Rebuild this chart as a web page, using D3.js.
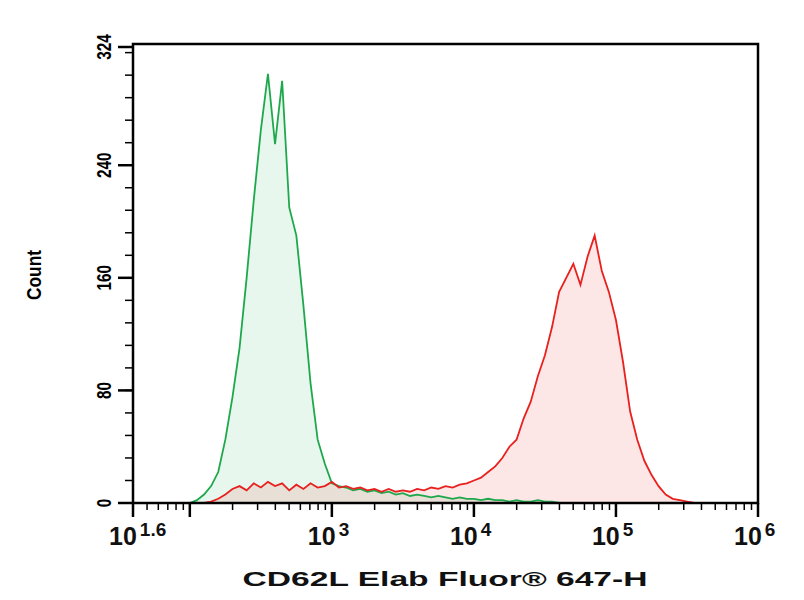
<!DOCTYPE html>
<html>
<head>
<meta charset="utf-8">
<script src="https://cdn.jsdelivr.net/npm/d3@7"></script>
<style>body{margin:0;background:#fff}</style>
</head>
<body>
<svg></svg>
<script>
// bin centres in log10 units, 0.05 step from 1.6
const binStart = 1.6, binStep = 0.05;
const green = [0,0,0,0,0,0,0,0, 0,2,6,12,22,45,75,110,160,215,265,305,255,300,210,190,140,85,45,28,
  14,12,11,9,10,8,9,7,8,6,7,5,6,5,4,5,4,3,4,3, 3,2,3,2,2,1,2,1,1,2,1,1,0,0,0,0];
const red = [0,0,0,0,0,0,0,0,0,0,0, 1,3,6,10,12,9,14,11,15,12,14,9,13,10,14,11,12,
  15,11,12,10,11,9,10,8,10,8,9,8,10,9,11,10,12,11,13,14,
  16,18,22,26,32,40,45,60,72,90,105,125,150,160,170,155,175,190,165,150,
  130,100,65,45,30,20,12,6,3,2,1,0,0,0];
const yTicks = [0, 80, 160, 240, 324];
const xTicks = [1.6, 3, 4, 5, 6];

const width = 804, height = 600;
const margin = { top: 44, right: 46, bottom: 97, left: 133 };

const svg = d3.select("svg").attr("width", width).attr("height", height);

const x = d3.scaleLinear().domain([1.6, 6]).range([margin.left, width - margin.right]);
const y = d3.scaleLinear().domain([0, 324]).range([height - margin.bottom, 47]);

const pts = arr => arr.map((v, i) => ({ lx: binStart + i * binStep, v }));

const area = d3.area().x(d => x(d.lx)).y0(y(0)).y1(d => y(d.v));
const line = d3.line().x(d => x(d.lx)).y(d => y(d.v));

svg.append("path").datum(pts(green)).attr("fill", "rgba(60,190,110,0.12)").attr("d", area);
svg.append("path").datum(pts(red)).attr("fill", "rgba(240,80,80,0.14)").attr("d", area);
svg.append("path").datum(pts(green)).attr("fill", "none").attr("stroke", "#1ea84c").attr("stroke-width", 1.8).attr("d", line);
svg.append("path").datum(pts(red)).attr("fill", "none").attr("stroke", "#e8201e").attr("stroke-width", 1.8).attr("d", line);

// frame
svg.append("rect")
  .attr("x", margin.left).attr("y", margin.top)
  .attr("width", width - margin.right - margin.left)
  .attr("height", height - margin.bottom - margin.top)
  .attr("fill", "none").attr("stroke", "#000").attr("stroke-width", 2.5);

const font = "Liberation Sans, Arial";

// y axis ticks
const yMinor = d3.range(0, 324, 16);
svg.append("g").selectAll("line").data(yMinor).join("line")
  .attr("x1", margin.left - 8).attr("x2", margin.left)
  .attr("y1", d => y(d)).attr("y2", d => y(d)).attr("stroke", "#000").attr("stroke-width", 1.5);
svg.append("g").selectAll("line").data(yTicks).join("line")
  .attr("x1", margin.left - 15).attr("x2", margin.left)
  .attr("y1", d => y(d)).attr("y2", d => y(d)).attr("stroke", "#000").attr("stroke-width", 2.5);
svg.append("g").selectAll("text").data(yTicks).join("text")
  .attr("transform", d => `translate(${margin.left - 22},${y(d)}) rotate(-90)`)
  .attr("text-anchor", "middle")
  .attr("font-family", font).attr("font-size", 20).attr("font-weight", "bold")
  .attr("textLength", d => String(d).length * 8.5).attr("lengthAdjust", "spacingAndGlyphs")
  .text(d => d);
svg.append("text")
  .attr("transform", `translate(41,${y(162)}) rotate(-90)`)
  .attr("text-anchor", "middle")
  .attr("font-family", font).attr("font-size", 21).attr("font-weight", "bold")
  .attr("textLength", 50).attr("lengthAdjust", "spacingAndGlyphs")
  .text("Count");

// x axis ticks
const xMinor = [];
for (let dec = 1; dec < 6; dec++) for (let k = 2; k <= 9; k++) {
  const l = dec + Math.log10(k);
  if (l > 1.6 && l < 6) xMinor.push(l);
}
const yb = height - margin.bottom;
svg.append("g").selectAll("line").data(xMinor).join("line")
  .attr("x1", d => x(d)).attr("x2", d => x(d))
  .attr("y1", yb).attr("y2", yb + 7).attr("stroke", "#000").attr("stroke-width", 1.5);
svg.append("g").selectAll("line").data([1.6, 2, 3, 4, 5, 6]).join("line")
  .attr("x1", d => x(d)).attr("x2", d => x(d))
  .attr("y1", yb).attr("y2", yb + 14).attr("stroke", "#000").attr("stroke-width", 2.5);

const xl = svg.append("g").selectAll("text").data(xTicks).join("text")
  .attr("x", d => x(d) - 24).attr("y", yb + 42)
  .attr("font-family", font).attr("font-size", 25).attr("font-weight", "bold")
  .attr("fill", "#111");
xl.append("tspan").text("10");
xl.append("tspan").attr("dy", -9).attr("dx", 3).attr("font-size", 19)
  .text(d => d === 1.6 ? "1.6" : d);

svg.append("text")
  .attr("x", 445).attr("y", 586).attr("text-anchor", "middle")
  .attr("font-family", font).attr("font-size", 21).attr("font-weight", "bold")
  .attr("fill", "#111")
  .attr("textLength", 405).attr("lengthAdjust", "spacingAndGlyphs")
  .text("CD62L Elab Fluor® 647-H");
</script>
</body>
</html>
